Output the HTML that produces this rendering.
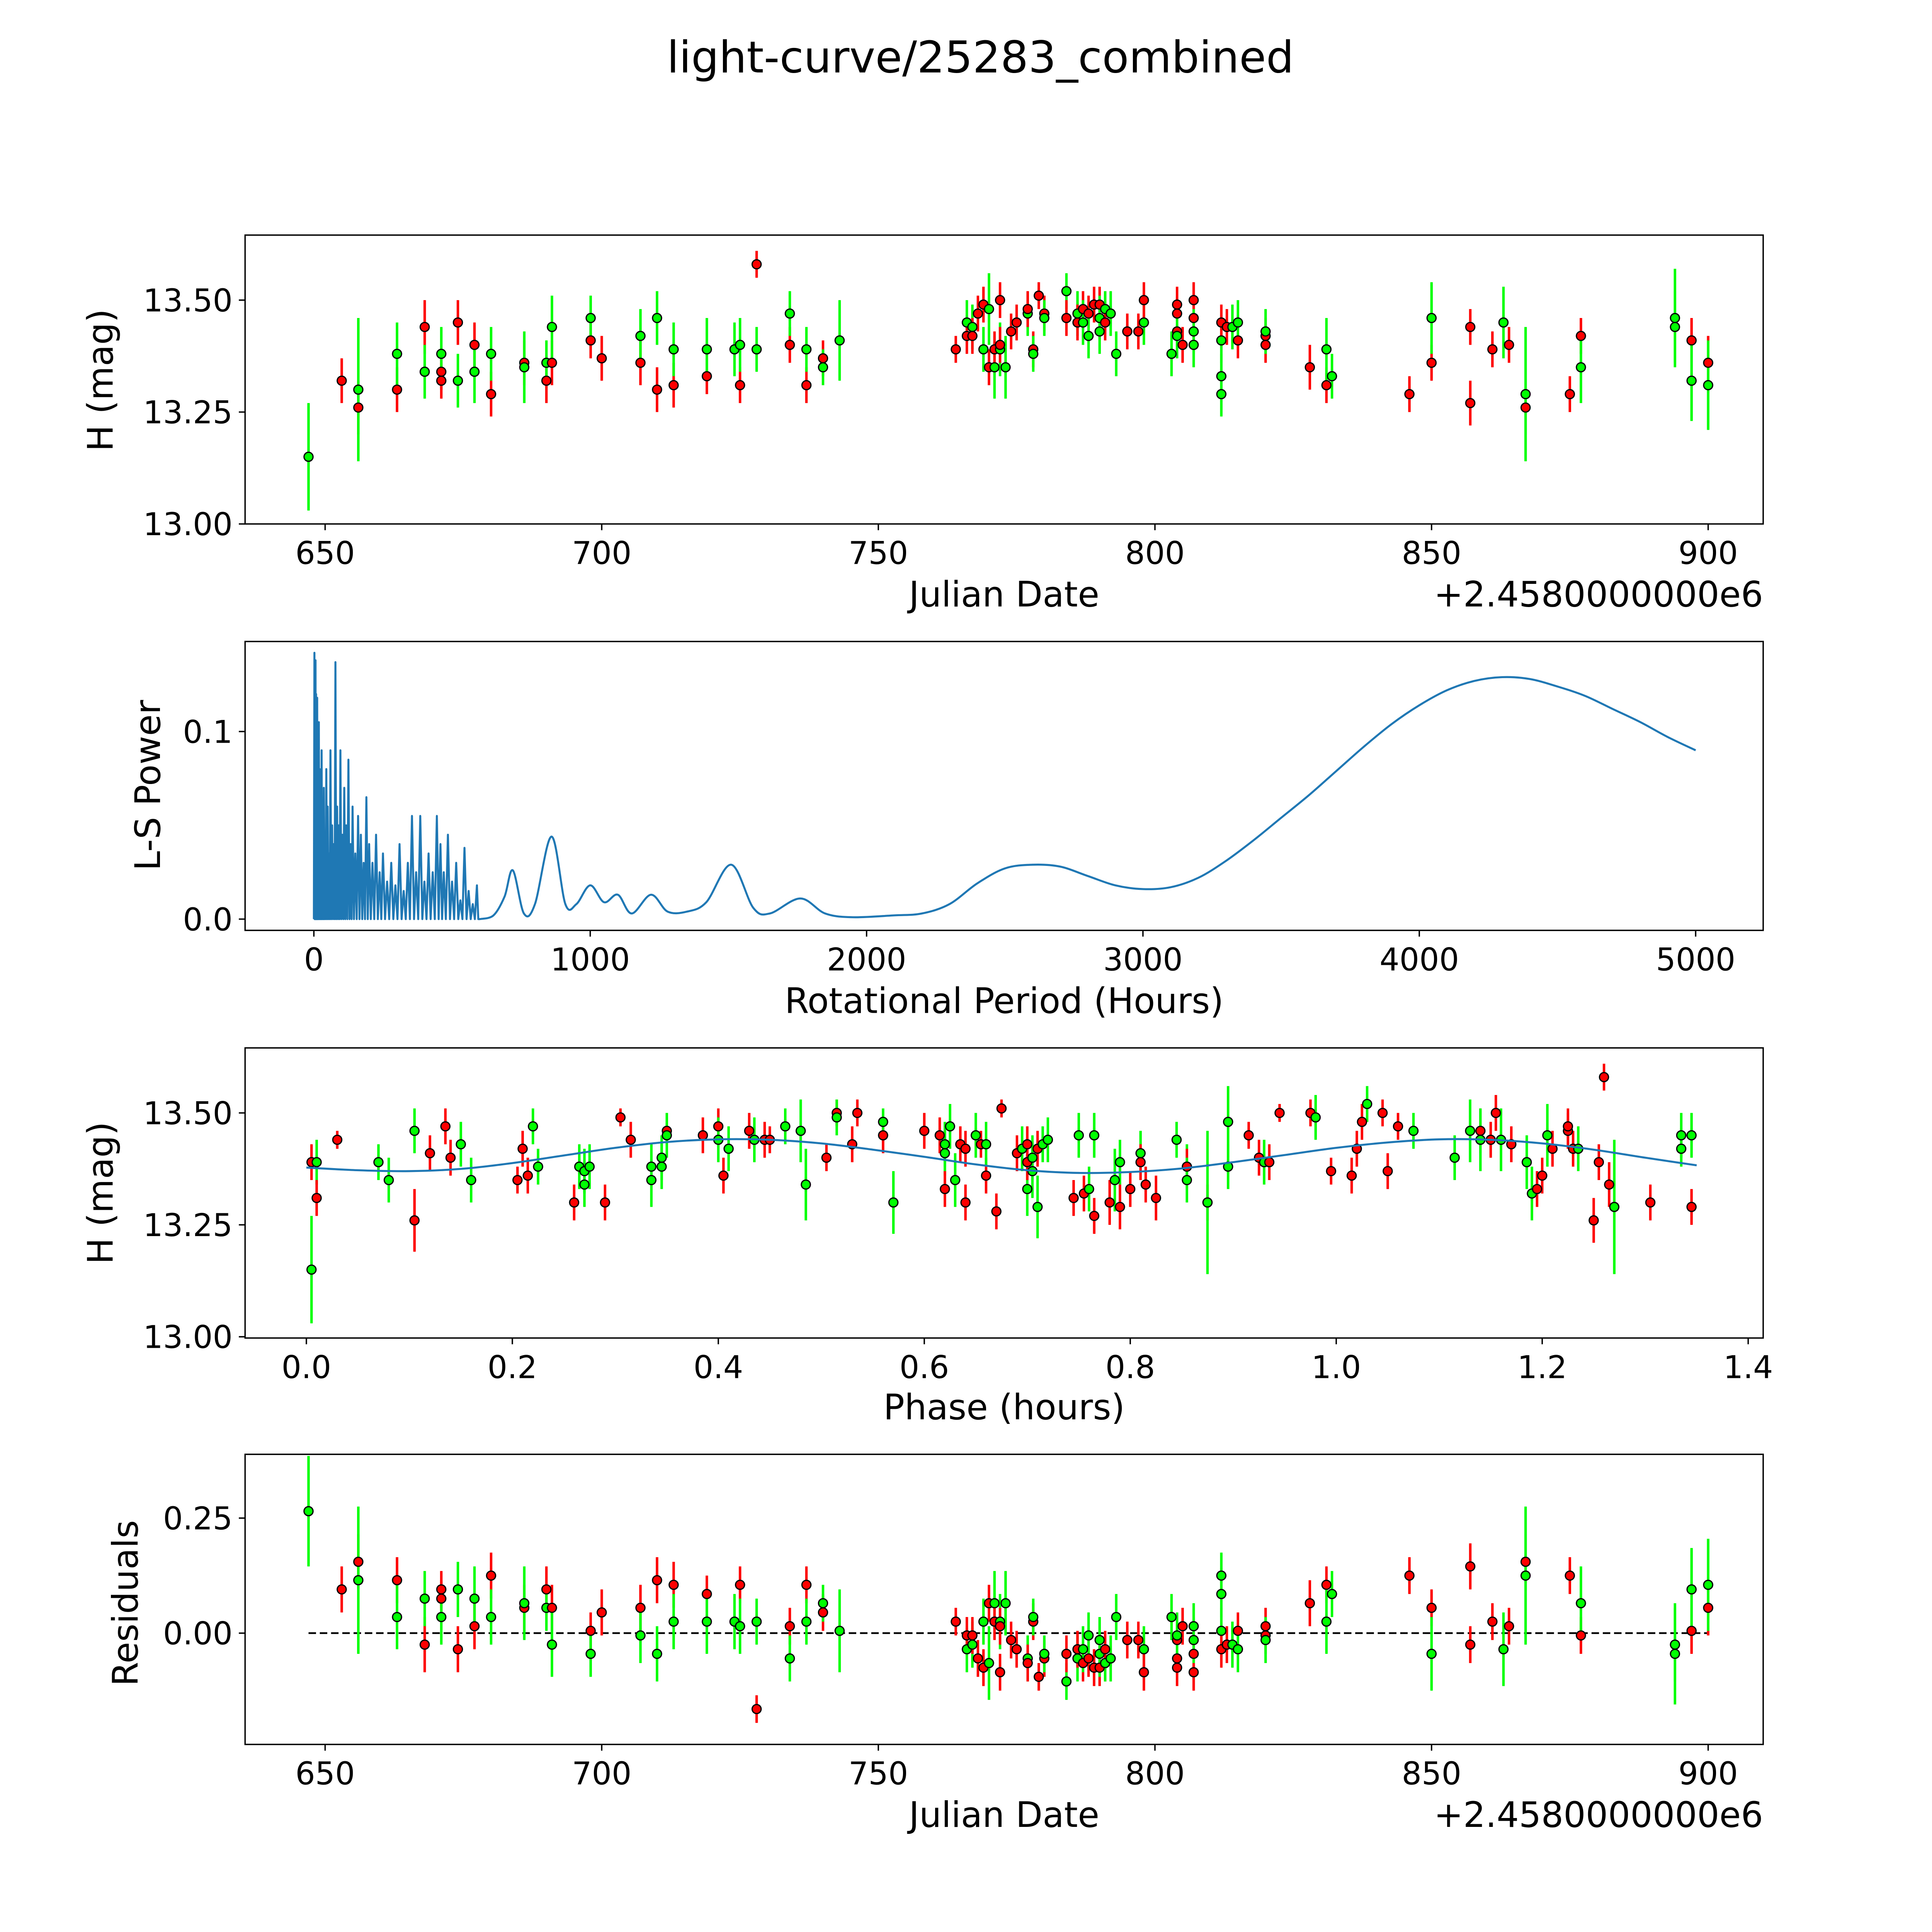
<!DOCTYPE html>
<html><head><meta charset="utf-8"><style>
html,body{margin:0;padding:0;background:#fff;overflow:hidden;width:100vw;height:100vh}
svg{display:block;width:100vw;height:100vh}
text{font-family:"DejaVu Sans","Liberation Sans",sans-serif;fill:#000}
</style></head><body>
<svg id="fig" viewBox="0 0 1545 1545" preserveAspectRatio="none" xmlns="http://www.w3.org/2000/svg">
<rect width="1545" height="1545" fill="#fff"/>
<text x="784" y="58" font-size="35" text-anchor="middle">light-curve/25283_combined</text>
<g id="layer"></g>
</svg>
<script>
// ---- light curve data
const lcTime=[647,653,656,656,663,663,668,668,671,671,671,674,674,677,677,680,680,686,686,690,690,691,691,698,698,700,707,707,710,710,713,713,719,719,725,724,725,728,728,734,734,737,737,740,740,743,
764,766,766,767,767,768,769,769,770,770,771,771,772,772,772,773,774,775,777,777,778,778,779,780,780,
784,784,786,786,787,787,788,788,789,790,790,790,791,791,791,792,793,795,797,798,798,
803,804,804,804,804,805,807,807,807,807,812,812,812,812,813,814,815,815,820,820,820,
828,831,831,832,846,850,850,857,857,861,863,864,867,867,875,877,877,894,894,897,897,900,900];
const lcMag=[13.15,13.32,13.26,13.30,13.30,13.38,13.44,13.34,13.34,13.32,13.38,13.45,13.32,13.40,13.34,13.29,13.38,13.36,13.35,13.32,13.36,13.36,13.44,13.41,13.46,13.37,13.36,13.42,13.30,13.46,13.31,13.39,13.33,13.39,13.31,13.39,13.40,13.58,13.39,13.40,13.47,13.31,13.39,13.37,13.35,13.41,
13.39,13.45,13.42,13.44,13.42,13.47,13.39,13.49,13.48,13.35,13.35,13.39,13.50,13.39,13.40,13.35,13.43,13.45,13.47,13.48,13.39,13.38,13.51,13.47,13.46,
13.52,13.46,13.47,13.45,13.48,13.45,13.47,13.42,13.49,13.49,13.43,13.46,13.48,13.48,13.45,13.47,13.38,13.43,13.43,13.45,13.50,
13.38,13.49,13.47,13.43,13.42,13.40,13.50,13.46,13.43,13.40,13.33,13.29,13.41,13.45,13.44,13.44,13.41,13.45,13.42,13.40,13.43,
13.35,13.31,13.39,13.33,13.29,13.36,13.46,13.44,13.27,13.39,13.45,13.40,13.26,13.29,13.29,13.42,13.35,13.46,13.44,13.41,13.32,13.36,13.31];
const lcErr=[0.12,0.05,0.06,0.16,0.05,0.07,0.06,0.06,0.04,0.04,0.06,0.05,0.06,0.05,0.07,0.05,0.06,0.05,0.08,0.05,0.05,0.05,0.07,0.04,0.05,0.05,0.05,0.06,0.05,0.06,0.05,0.06,0.04,0.07,0.04,0.06,0.06,0.03,0.05,0.04,0.05,0.04,0.05,0.04,0.04,0.09,
0.03,0.05,0.04,0.05,0.04,0.04,0.05,0.04,0.08,0.04,0.07,0.04,0.04,0.06,0.04,0.07,0.04,0.04,0.05,0.04,0.04,0.04,0.03,0.04,0.04,
0.04,0.04,0.05,0.04,0.04,0.05,0.04,0.05,0.04,0.04,0.05,0.05,0.04,0.04,0.04,0.05,0.05,0.04,0.04,0.05,0.04,
0.05,0.04,0.04,0.04,0.05,0.04,0.04,0.04,0.05,0.05,0.05,0.05,0.05,0.04,0.04,0.05,0.04,0.05,0.04,0.04,0.05,
0.05,0.04,0.07,0.05,0.04,0.04,0.08,0.04,0.05,0.04,0.08,0.04,0.06,0.15,0.04,0.04,0.08,0.11,0.08,0.05,0.09,0.06,0.10];
const lcBand="grrgrgrgrrgrgrgrgrgrgrgrgrrgrgrgrgrggrgrgrgrgg"+"rgrgrrgrgrgrrgrgrrgrrgrrg"+"grgrrgrgrrggrgrggrrgr"+"grrrgrrrgggggrrgrgrrg"+"rrggrrgrrrgrrgrrgggrgrg";
const RESID_MODEL=13.415;
// ---- periodogram
const lsSpikeP=[2,4,6,8,10,12,15,18,21,25,28,32,36,40,45,50,55,60,66,72,78,84,90,96,103,110,117,125,133,140,150,160,170,180,190,200,212,225,238,250,265,280,295,310,325,340,355,370,385,400,415,430,445,458,470,485,500,515,530,545,560,575,590];
const lsSpikeV=[0.142,0.10,0.138,0.12,0.09,0.118,0.07,0.105,0.08,0.06,0.09,0.05,0.07,0.04,0.08,0.06,0.035,0.09,0.05,0.04,0.137,0.06,0.05,0.09,0.045,0.07,0.05,0.085,0.04,0.06,0.035,0.055,0.045,0.03,0.065,0.04,0.03,0.045,0.025,0.035,0.02,0.03,0.018,0.04,0.015,0.03,0.055,0.025,0.055,0.02,0.035,0.025,0.055,0.04,0.025,0.045,0.02,0.03,0.01,0.038,0.015,0.008,0.018];
const lsSmoothP=[600,650,690,720,760,800,860,910,950,1000,1050,1100,1150,1220,1280,1350,1420,1510,1590,1650,1760,1850,1950,2100,2200,2300,2400,2500,2600,2700,2800,2900,3000,3100,3200,3300,3400,3500,3600,3700,3800,3900,4000,4100,4200,4300,4400,4500,4600,4700,4800,4900,5000];
const lsSmoothV=[0,0.002,0.012,0.026,0.003,0.008,0.044,0.008,0.008,0.018,0.009,0.013,0.003,0.013,0.004,0.004,0.009,0.029,0.006,0.003,0.011,0.003,0.001,0.002,0.003,0.008,0.019,0.027,0.029,0.028,0.023,0.018,0.016,0.017,0.022,0.031,0.042,0.054,0.066,0.079,0.092,0.104,0.114,0.122,0.127,0.129,0.128,0.124,0.119,0.112,0.105,0.097,0.090];
// ---- phase data
const phX=[0.005,0.01,0.01,0.005,0.03,0.07,0.08,0.105,0.105,0.12,0.135,0.14,0.15,0.16,0.205,0.21,0.215,0.22,0.225,0.26,0.265,0.27,0.27,0.275,0.29,0.305,0.315,0.335,0.335,0.345,0.345,0.35,0.35,0.385,0.40,0.40,0.405,0.41,0.43,0.435,0.445,0.45,0.465,0.48,0.485,0.505,0.515,0.515,0.53,0.535,0.56,0.56,0.57,0.6,0.615,0.62,0.62,0.62,0.625,0.63,0.635,0.64,0.64,0.65,0.655,0.66,0.66,0.67,0.675,0.69,0.695,0.70,0.70,0.70,0.705,0.705,0.71,0.71,0.715,0.72,0.745,0.75,0.755,0.76,0.765,0.765,0.78,0.785,0.79,0.79,0.80,0.81,0.81,0.815,0.825,0.845,0.855,0.855,0.855,0.875,0.875,0.895,0.895,0.915,0.925,0.93,0.935,0.945,0.975,0.98,0.995,1.015,1.02,1.025,1.03,1.045,1.05,1.06,1.075,1.115,1.13,1.14,1.14,1.15,1.155,1.16,1.17,1.185,1.19,1.195,1.20,1.205,1.21,1.225,1.225,1.23,1.235,1.25,1.255,1.26,1.265,1.27,1.305,1.345,1.335,1.335,1.345];
const phMag=[13.39,13.39,13.31,13.15,13.44,13.39,13.35,13.46,13.26,13.41,13.47,13.40,13.43,13.35,13.35,13.42,13.36,13.47,13.38,13.30,13.38,13.37,13.34,13.38,13.30,13.49,13.44,13.35,13.38,13.38,13.40,13.46,13.45,13.45,13.47,13.44,13.36,13.42,13.46,13.44,13.44,13.44,13.47,13.46,13.34,13.40,13.50,13.49,13.43,13.50,13.45,13.48,13.30,13.46,13.45,13.43,13.41,13.33,13.47,13.35,13.43,13.30,13.42,13.45,13.43,13.36,13.43,13.28,13.51,13.41,13.42,13.33,13.39,13.43,13.37,13.40,13.42,13.29,13.43,13.44,13.31,13.45,13.32,13.33,13.45,13.27,13.30,13.35,13.39,13.29,13.33,13.41,13.39,13.34,13.31,13.44,13.38,13.38,13.35,13.30,13.30,13.38,13.48,13.45,13.40,13.39,13.39,13.50,13.50,13.49,13.37,13.36,13.42,13.48,13.52,13.50,13.37,13.47,13.46,13.40,13.46,13.46,13.44,13.44,13.50,13.44,13.43,13.39,13.32,13.33,13.36,13.45,13.42,13.46,13.47,13.42,13.42,13.26,13.39,13.58,13.34,13.29,13.30,13.29,13.45,13.42,13.45];
const phErr=[0.04,0.05,0.04,0.12,0.02,0.04,0.05,0.05,0.07,0.04,0.04,0.04,0.05,0.05,0.03,0.04,0.04,0.04,0.04,0.04,0.05,0.05,0.05,0.05,0.04,0.02,0.04,0.06,0.05,0.05,0.05,0.03,0.05,0.04,0.04,0.05,0.04,0.05,0.04,0.05,0.04,0.03,0.04,0.07,0.08,0.03,0.03,0.04,0.04,0.03,0.04,0.03,0.07,0.04,0.04,0.05,0.05,0.04,0.05,0.06,0.04,0.04,0.04,0.05,0.03,0.04,0.05,0.04,0.02,0.04,0.05,0.06,0.04,0.04,0.06,0.05,0.04,0.07,0.04,0.05,0.04,0.05,0.04,0.05,0.05,0.04,0.05,0.07,0.05,0.05,0.04,0.05,0.04,0.04,0.05,0.04,0.05,0.04,0.05,0.04,0.16,0.05,0.08,0.03,0.04,0.05,0.04,0.02,0.03,0.05,0.03,0.04,0.04,0.04,0.04,0.03,0.04,0.03,0.04,0.05,0.07,0.05,0.07,0.04,0.04,0.07,0.04,0.06,0.06,0.04,0.04,0.07,0.04,0.04,0.04,0.04,0.05,0.05,0.04,0.03,0.05,0.15,0.04,0.04,0.05,0.04,0.05];
const phBand="rgrgrgggrr"+"rrggrrrggr"+"ggggrrrggg"+"grgrrgrgrg"+"rrgggrrgrr"+"rggrrggrgg"+"rrrgrrgrrr"+"ggrrggrggg"+"rgrggrrggr"+"rgrrrggrgr"+"gggrrgrrrg"+"rrrrgrrrgg"+"grgrrgrggr"+"rgrrrrgrrr"+"rgrrggg";
const fitPhase=[0,0.05,0.1,0.15,0.2,0.25,0.3,0.35,0.4,0.45,0.5,0.55,0.6,0.65,0.7,0.75,0.8,0.85,0.9,0.95,1.0,1.05,1.1,1.15,1.2,1.25,1.3,1.35];
const fitMag=[13.378,13.372,13.370,13.375,13.388,13.405,13.422,13.435,13.441,13.440,13.432,13.418,13.402,13.385,13.372,13.366,13.368,13.376,13.390,13.406,13.422,13.434,13.441,13.440,13.432,13.418,13.400,13.383];
const tick1=[650,700,750,800,850,900];
const tickMag=[13.00,13.25,13.50];
const tickLS=[0,1000,2000,3000,4000,5000];
const tickLSy=[0.0,0.1];
const tickPh=[0.0,0.2,0.4,0.6,0.8,1.0,1.2,1.4];
const tickRes=[0.00,0.25];

const NS="http://www.w3.org/2000/svg";
const layer=document.getElementById('layer');
function mk(tag,attrs,parent,txt){const e=document.createElementNS(NS,tag);for(const k in attrs)e.setAttribute(k,attrs[k]);if(txt!==undefined)e.textContent=txt;(parent||layer).appendChild(e);return e;}
function lin(d0,d1,p0,p1){return v=>p0+(v-d0)*(p1-p0)/(d1-d0);}
const L=196,R=1410;
function frame(name,top,bot){const g=mk('g',{},layer);
 mk('rect',{x:L,y:top,width:R-L,height:bot-top,fill:'none',stroke:'#000','stroke-width':1.1},g);return g;}
function xticks(g,ticks,sx,bot,fmt){ticks.forEach(t=>{const x=sx(t);mk('line',{x1:x,x2:x,y1:bot,y2:bot+5,stroke:'#000','stroke-width':1.1},g);
 const tx=mk('text',{x:x,y:bot+32,'font-size':25,'text-anchor':'middle'},g,fmt(t));});}
function yticks(g,ticks,sy,fmt){ticks.forEach(t=>{const y=sy(t);mk('line',{x1:L-5,x2:L,y1:y,y2:y,stroke:'#000','stroke-width':1.1},g);
 const tx=mk('text',{x:L-10,y:y+9,'font-size':25,'text-anchor':'end'},g,fmt(t));});}
function label(g,name,x,y,txt,rot){const a={x:x,y:y,'font-size':28,'text-anchor':'middle'};if(rot)a.transform='rotate(-90 '+x+' '+y+')';const t=mk('text',a,g,txt);}
function pts(g,xs,ys,es,bands,sx,sy){const eg=mk('g',{},g);const mg=mk('g',{},g);
 for(let i=0;i<xs.length;i++){const c=bands[i]==='r'?'#ff0000':'#00ff00';const x=sx(xs[i]),y=sy(ys[i]);
  const l=mk('line',{x1:x,x2:x,y1:sy(ys[i]-es[i]),y2:sy(ys[i]+es[i]),stroke:c,'stroke-width':2},eg);
  const p=mk('circle',{cx:x,cy:y,r:3.6,fill:c,stroke:'#000','stroke-width':1},mg);}}
function smooth(P,V){let d='M'+P[0]+','+V[0];
 for(let i=0;i<P.length-1;i++){const p0=i>0?i-1:i,p3=i+2<P.length?i+2:i+1;
  d+=' C'+(P[i]+(P[i+1]-P[p0])/6).toFixed(2)+','+(V[i]+(V[i+1]-V[p0])/6).toFixed(2)+' '+(P[i+1]-(P[p3]-P[i])/6).toFixed(2)+','+(V[i+1]-(V[p3]-V[i])/6).toFixed(2)+' '+P[i+1].toFixed(2)+','+V[i+1].toFixed(2);}
 return d;}

// Panel 1
{const top=188,bot=419;const g=frame('light-curve-panel',top,bot);
 const sx=lin(650,900,260,1366), sy=lin(13,13.5,419,240);
 xticks(g,tick1,sx,bot,t=>t);yticks(g,tickMag,sy,t=>t.toFixed(2));
 pts(g,lcTime,lcMag,lcErr,lcBand,sx,sy);
 label(g,'x-axis-title',803,485,'Julian Date');label(g,'y-axis-title',90,304,'H (mag)',true);
 const o=mk('text',{x:1410,y:485,'font-size':28,'text-anchor':'end'},g,'+2.4580000000e6');}
// Panel 2
{const top=513,bot=744;const g=frame('periodogram-panel',top,bot);
 const sx=lin(0,5000,251,1356), sy=lin(0,0.1,735,585);
 xticks(g,tickLS,sx,bot,t=>t);yticks(g,tickLSy,sy,t=>t.toFixed(1));
 let d='M'+sx(0)+','+sy(0);
 for(let i=0;i<lsSpikeP.length;i++){const p=lsSpikeP[i];const nx=i+1<lsSpikeP.length?lsSpikeP[i+1]:600;
  d+=' L'+sx(p).toFixed(2)+','+sy(lsSpikeV[i]).toFixed(2)+' L'+sx((p+nx)/2).toFixed(2)+','+sy(0).toFixed(2);}
 const P=lsSmoothP.map(sx),V=lsSmoothV.map(sy);
 d+=' L'+P[0]+','+V[0]+' '+smooth(P,V).replace(/^M[^ ]+ /,'');
 const pl=mk('path',{d:d,fill:'none',stroke:'#1f77b4','stroke-width':1.6,'stroke-linejoin':'round'},g);
 label(g,'x-axis-title',803,810,'Rotational Period (Hours)');label(g,'y-axis-title',128,628,'L-S Power',true);}
// Panel 3
{const top=838,bot=1070;const g=frame('phase-panel',top,bot);
 const sx=lin(0,1.4,245,1398), sy=lin(13,13.5,1069,890);
 xticks(g,tickPh,sx,bot,t=>t.toFixed(1));yticks(g,tickMag,sy,t=>t.toFixed(2));
 pts(g,phX,phMag,phErr,phBand,sx,sy);
 const f=mk('path',{d:smooth(fitPhase.map(sx),fitMag.map(sy)),fill:'none',stroke:'#1f77b4','stroke-width':1.6},g);
 label(g,'x-axis-title',803,1135,'Phase (hours)');label(g,'y-axis-title',90,954,'H (mag)',true);}
// Panel 4
{const top=1163,bot=1395;const g=frame('residuals-panel',top,bot);
 const sx=lin(650,900,260,1366), sy=lin(0,0.25,1306,1214);
 xticks(g,tick1,sx,bot,t=>t);yticks(g,tickRes,sy,t=>t.toFixed(2));
 const z=mk('line',{x1:sx(647),x2:sx(900),y1:sy(0),y2:sy(0),stroke:'#000','stroke-width':1.4,'stroke-dasharray':'6,3'},g);
 const res=lcMag.map(m=>RESID_MODEL-m);
 pts(g,lcTime,res,lcErr,lcBand,sx,sy);
 label(g,'x-axis-title',803,1461,'Julian Date');label(g,'y-axis-title',110,1282,'Residuals',true);
 const o=mk('text',{x:1410,y:1461,'font-size':28,'text-anchor':'end'},g,'+2.4580000000e6');}
</script>
</body></html>
